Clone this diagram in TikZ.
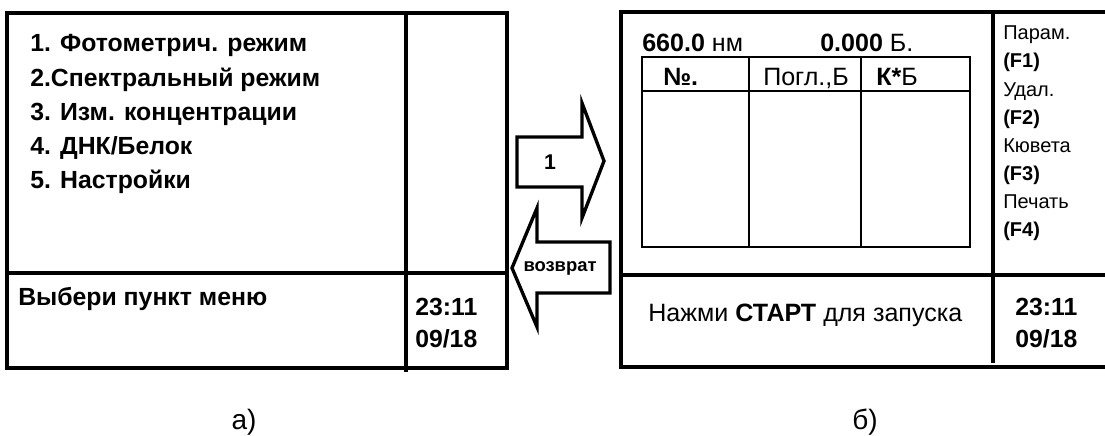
\documentclass[tikz,border=0pt]{standalone}
\usepackage{fontspec}
\setmainfont{Liberation Sans}
\usetikzlibrary{positioning}
\tikzset{
  frame/.style={line width=2.5pt, black},
  tablegrid/.style={line width=1.1pt, black},
  bigarrow/.style={line width=2.5pt, black, line join=miter, fill=white},
  menuitem/.style={anchor=base west, inner sep=0pt, font=\fontsize{18.6}{20}\selectfont\bfseries},
  screentext/.style={anchor=base west, inner sep=0pt, font=\fontsize{18.8}{20}\selectfont},
  fkey/.style={anchor=base west, inner sep=0pt, font=\fontsize{15}{16}\selectfont},
  caption/.style={anchor=base, inner sep=0pt, font=\fontsize{21}{22}\selectfont},
}

\begin{document}
\begin{tikzpicture}[x=0.75pt, y=-0.75pt]
  \useasboundingbox (0,0) rectangle (1105,435);

  % screen a)
  \draw[frame] (7,13) rectangle (507,368);
  \draw[frame] (7,273) -- (507,273);
  \draw[frame] (406,13) -- (406,372);
  \node[menuitem] (m1) at (30,52) {1. Фотометрич. режим};
  \node[menuitem] (m2) at (30,86) {2.Спектральный режим};
  \node[menuitem] (m3) at (30,120) {3. Изм. концентрации};
  \node[menuitem] (m4) at (30,154) {4. ДНК/Белок};
  \node[menuitem] (m5) at (30,188) {5. Настройки};
  \node[menuitem] (choose) at (18,305) {Выбери пункт меню};
  \node[menuitem] (timea) at (415,315) {23:11};
  \node[menuitem] (datea) at (415,347) {09/18};

  % arrows between the screens
  \draw[bigarrow] (517,137) -- (582,137) -- (582,103) -- (604,161)
    -- (582,218) -- (582,187) -- (517,187) -- cycle;
  \node[font=\fontsize{16}{18}\selectfont\bfseries] (one) at (550,162) {1};
  \draw[bigarrow] (610,242) -- (537,242) -- (537,208) -- (512,268)
    -- (537,327) -- (537,293) -- (610,293) -- cycle;
  \node[font=\fontsize{13.8}{16}\selectfont\bfseries, inner sep=0pt] (back) at (560,268) {возврат};

  % screen b)
  \draw[frame] (1105,12) -- (621,12) -- (621,367) -- (1105,367);
  \draw[frame] (621,275) -- (1105,275);
  \draw[frame] (993,14) -- (993,363);
  \node[screentext] (wave) at (642,51) {\textbf{660.0} нм};
  \node[screentext] (absb) at (820,51) {\textbf{0.000} Б.};
  \draw[tablegrid] (642,57) rectangle (970,247);
  \draw[tablegrid] (642,91) -- (970,91);
  \draw[tablegrid] (749,57) -- (749,247);
  \draw[tablegrid] (861,57) -- (861,247);
  \node[screentext] (colno) at (663,85) {\textbf{№.}};
  \node[screentext] (colabs) at (763,85) {Погл.,Б};
  \node[screentext] (colk) at (876,85) {\textbf{К*}Б};
  \node[fkey] (f1t) at (1003,40) {Парам.};
  \node[fkey] (f1) at (1003,68) {\textbf{(F1)}};
  \node[fkey] (f2t) at (1003,96) {Удал.};
  \node[fkey] (f2) at (1003,124) {\textbf{(F2)}};
  \node[fkey] (f3t) at (1003,152) {Кювета};
  \node[fkey] (f3) at (1003,180) {\textbf{(F3)}};
  \node[fkey] (f4t) at (1003,208) {Печать};
  \node[fkey] (f4) at (1003,236) {\textbf{(F4)}};
  \node[screentext] (start) at (648,321) {Нажми \textbf{СТАРТ} для запуска};
  \node[menuitem] (timeb) at (1015,315) {23:11};
  \node[menuitem] (dateb) at (1015,347) {09/18};

  % captions
  \node[caption] (capa) at (244,429) {а)};
  \node[caption] (capb) at (865,429) {б)};
\end{tikzpicture}
\end{document}
